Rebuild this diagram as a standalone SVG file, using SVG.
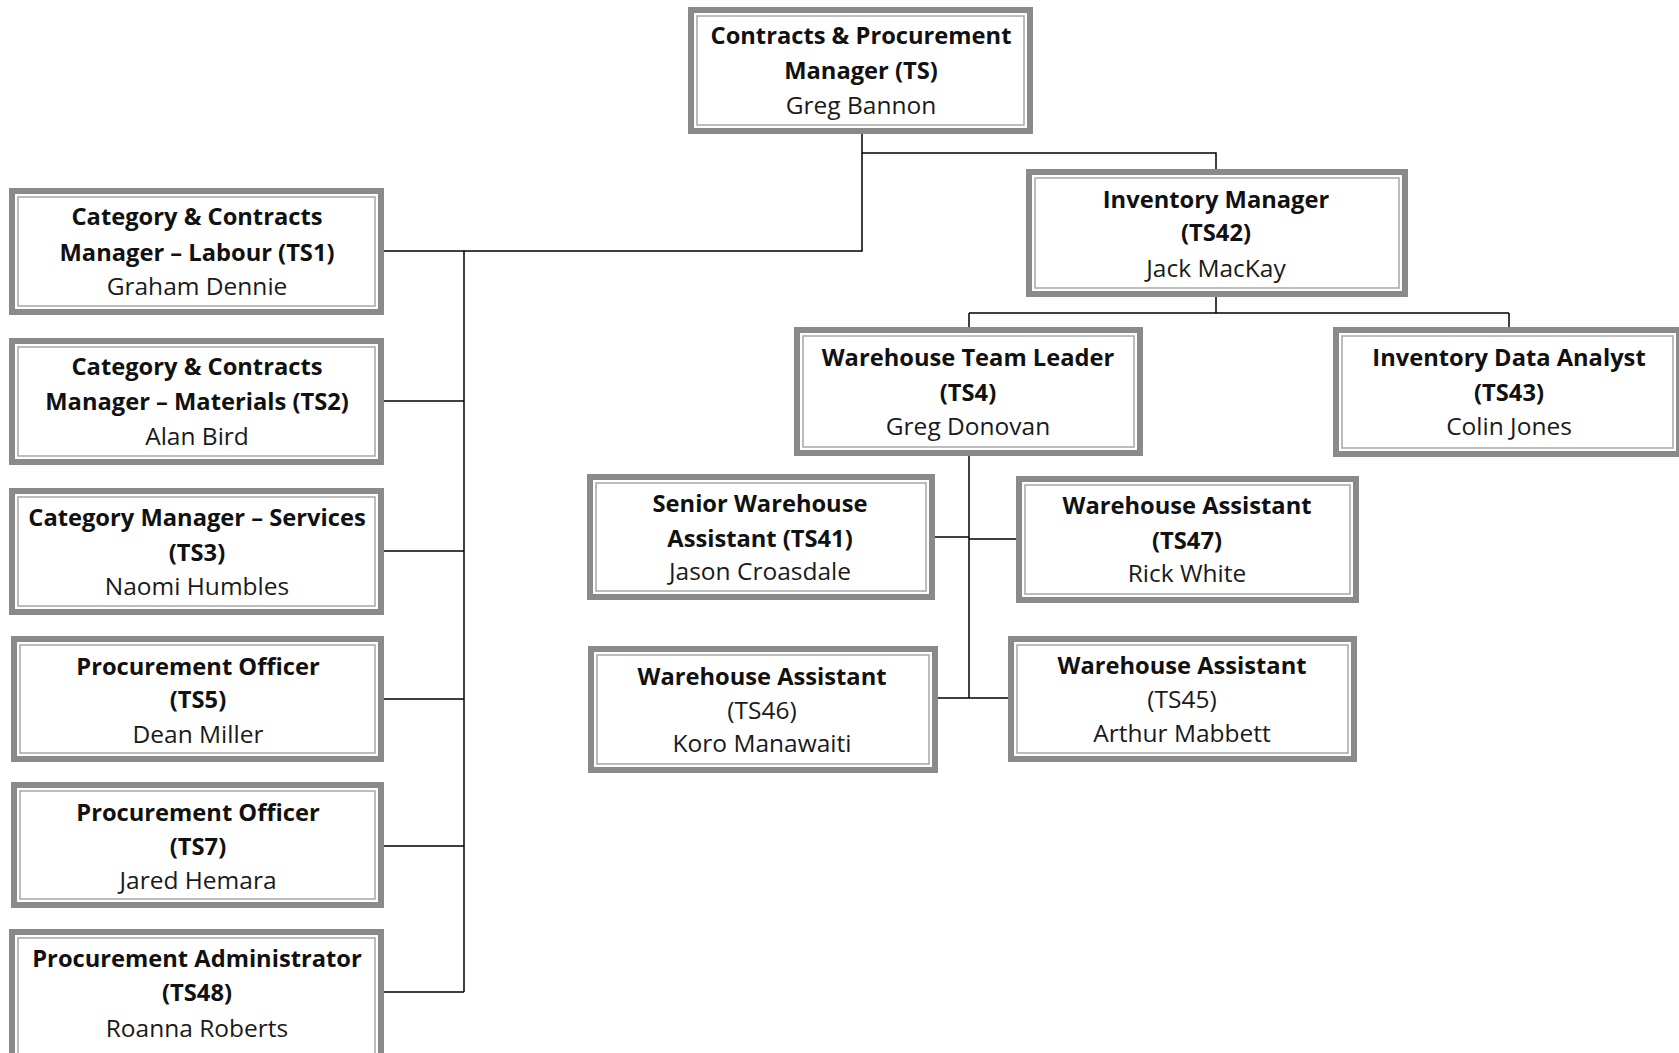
<svg xmlns="http://www.w3.org/2000/svg" width="1679" height="1053" viewBox="0 0 1679 1053">
<style>
.o{fill:#ffffff;stroke:#8a8a8a;stroke-width:6}
.i{fill:none;stroke:#a6a6a6;stroke-width:1.5}
text{font-family:"Open Sans","Liberation Sans",sans-serif;font-size:24.5px;fill:#1a1a1a;text-anchor:middle}
.b{font-weight:bold;font-size:23.7px;fill:#111}
.c{fill:none;stroke:#000;stroke-width:1.5}
</style>
<rect width="1679" height="1053" fill="#fff"/>
<g id="connectors" class="c">
<path d="M862 134V251H384"/>
<path d="M862 153H1216V169"/>
<path d="M464 251V992"/>
<path d="M384 401H464M384 551H464M384 699H464M384 846H464M384 992H464"/>
<path d="M1216 297V313M969 313H1509M969 313V327M1509 313V327"/>
<path d="M969 456V698"/>
<path d="M935 537H969M969 539H1016M938 698H1008"/>
</g>
<g id="n-ts">
<rect class="o" x="691" y="10" width="339" height="121"/><rect class="i" x="697" y="16" width="327" height="109"/>
<text class="b" x="861" y="44">Contracts &amp; Procurement</text>
<text class="b" x="861" y="79">Manager (TS)</text>
<text x="861" y="114">Greg Bannon</text>
</g>
<g id="n-ts1">
<rect class="o" x="12" y="191" width="369" height="121"/><rect class="i" x="18" y="197" width="357" height="109"/>
<text class="b" x="197" y="225">Category &amp; Contracts</text>
<text class="b" x="197" y="261">Manager – Labour (TS1)</text>
<text x="197" y="295">Graham Dennie</text>
</g>
<g id="n-ts2">
<rect class="o" x="12" y="341" width="369" height="121"/><rect class="i" x="18" y="347" width="357" height="109"/>
<text class="b" x="197" y="375">Category &amp; Contracts</text>
<text class="b" x="197" y="410">Manager – Materials (TS2)</text>
<text x="197" y="445">Alan Bird</text>
</g>
<g id="n-ts3">
<rect class="o" x="12" y="491" width="369" height="121"/><rect class="i" x="18" y="497" width="357" height="109"/>
<text class="b" x="197" y="526">Category Manager – Services</text>
<text class="b" x="197" y="561">(TS3)</text>
<text x="197" y="595">Naomi Humbles</text>
</g>
<g id="n-ts5">
<rect class="o" x="14" y="639" width="367" height="120"/><rect class="i" x="20" y="645" width="355" height="108"/>
<text class="b" x="198" y="675">Procurement Officer</text>
<text class="b" x="198" y="708">(TS5)</text>
<text x="198" y="743">Dean Miller</text>
</g>
<g id="n-ts7">
<rect class="o" x="14" y="785" width="367" height="120"/><rect class="i" x="20" y="791" width="355" height="108"/>
<text class="b" x="198" y="821">Procurement Officer</text>
<text class="b" x="198" y="855">(TS7)</text>
<text x="198" y="889">Jared Hemara</text>
</g>
<g id="n-ts48">
<rect class="o" x="12" y="932" width="369" height="130"/><rect class="i" x="18" y="938" width="357" height="118"/>
<text class="b" x="197" y="967">Procurement Administrator</text>
<text class="b" x="197" y="1001">(TS48)</text>
<text x="197" y="1037">Roanna Roberts</text>
</g>
<g id="n-ts42">
<rect class="o" x="1029" y="172" width="376" height="122"/><rect class="i" x="1035" y="178" width="364" height="110"/>
<text class="b" x="1216" y="208">Inventory Manager</text>
<text class="b" x="1216" y="241">(TS42)</text>
<text x="1216" y="277">Jack MacKay</text>
</g>
<g id="n-ts4">
<rect class="o" x="797" y="330" width="343" height="123"/><rect class="i" x="803" y="336" width="331" height="111"/>
<text class="b" x="968" y="366">Warehouse Team Leader</text>
<text class="b" x="968" y="401">(TS4)</text>
<text x="968" y="435">Greg Donovan</text>
</g>
<g id="n-ts43">
<rect class="o" x="1336" y="330" width="343" height="124"/><rect class="i" x="1342" y="336" width="331" height="112"/>
<text class="b" x="1509" y="366">Inventory Data Analyst</text>
<text class="b" x="1509" y="401">(TS43)</text>
<text x="1509" y="435">Colin Jones</text>
</g>
<g id="n-ts41">
<rect class="o" x="590" y="477" width="342" height="120"/><rect class="i" x="596" y="483" width="330" height="108"/>
<text class="b" x="760" y="512">Senior Warehouse</text>
<text class="b" x="760" y="547">Assistant (TS41)</text>
<text x="760" y="580">Jason Croasdale</text>
</g>
<g id="n-ts47">
<rect class="o" x="1019" y="479" width="337" height="121"/><rect class="i" x="1025" y="485" width="325" height="109"/>
<text class="b" x="1187" y="514">Warehouse Assistant</text>
<text class="b" x="1187" y="549">(TS47)</text>
<text x="1187" y="582">Rick White</text>
</g>
<g id="n-ts46">
<rect class="o" x="591" y="649" width="344" height="121"/><rect class="i" x="597" y="655" width="332" height="109"/>
<text class="b" x="762" y="685">Warehouse Assistant</text>
<text x="762" y="719">(TS46)</text>
<text x="762" y="752">Koro Manawaiti</text>
</g>
<g id="n-ts45">
<rect class="o" x="1011" y="639" width="343" height="120"/><rect class="i" x="1017" y="645" width="331" height="108"/>
<text class="b" x="1182" y="674">Warehouse Assistant</text>
<text x="1182" y="708">(TS45)</text>
<text x="1182" y="742">Arthur Mabbett</text>
</g>
</svg>
